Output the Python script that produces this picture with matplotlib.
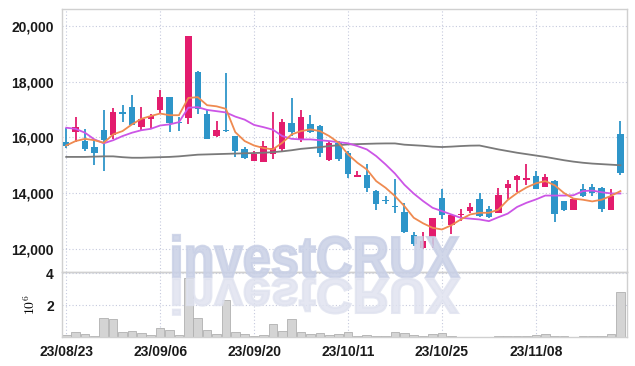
import matplotlib
matplotlib.use("Agg")
import matplotlib.pyplot as plt
from matplotlib.font_manager import FontProperties
from matplotlib.patches import PathPatch
from matplotlib.textpath import TextPath
from matplotlib.transforms import Affine2D, IdentityTransform
from matplotlib.ticker import FuncFormatter

plt.rcParams["mathtext.fontset"] = "cm"

# daily candles, 2023-08-23 .. 2023-11-21
opens = [15820, 16190, 15870, 15640, 16250, 16080, 16930, 17110, 16370, 16660,
         16980, 17440, 16550, 16710, 18340, 16830, 16050, 16240, 16070, 15570,
         15150, 15130, 15420, 15590, 16530, 15930, 16470, 16400, 15190, 15790,
         15450, 14580, 14640, 14070, 13740, 13530, 13310, 12480, 12020, 12420,
         13840, 12850, 13210, 13340, 13800, 13440, 13290, 14190, 14480, 14470,
         14610, 14220, 14430, 13710, 13390, 14130, 14200, 14180, 13400, 16140]
highs = [16350, 16740, 16320, 15950, 17000, 17070, 17160, 17530, 17100, 16830,
         17710, 17460, 16720, 19660, 18380, 17000, 16590, 18320, 16070, 15670,
         15510, 15890, 16910, 16650, 17420, 17000, 16790, 16460, 15870, 15870,
         15510, 14790, 15030, 14100, 13890, 14490, 13650, 12600, 12600, 13110,
         14150, 13230, 13440, 13650, 14010, 13530, 14190, 14470, 14660, 15030,
         14790, 14670, 14470, 13720, 13800, 14310, 14310, 14220, 14140, 16590]
lows = [15630, 15830, 15530, 15020, 14790, 15950, 16570, 16440, 16260, 16350,
        16890, 16200, 16230, 16490, 16850, 15950, 16020, 16190, 15310, 15230,
        15140, 15130, 15230, 15530, 16050, 15830, 16170, 15310, 15150, 15150,
        14550, 14580, 14040, 13390, 13620, 13290, 12570, 12090, 12000, 12040,
        13080, 12510, 12990, 13270, 13150, 13110, 13270, 13800, 14040, 14280,
        14130, 14220, 12960, 13350, 13390, 13870, 13910, 13330, 13400, 14640]
closes = [15710, 16370, 15570, 15440, 15900, 16930, 16840, 16440, 16680, 16770,
          17440, 16530, 16520, 19660, 17030, 15950, 16250, 16220, 15510, 15260,
          15420, 15690, 15630, 16550, 16200, 16730, 16190, 15440, 15790, 15210,
          14670, 14650, 14180, 13600, 13710, 13490, 12600, 12150, 12260, 13090,
          13200, 13200, 13230, 13510, 13170, 13150, 13940, 14310, 14600, 14530,
          14160, 14580, 13230, 13390, 13770, 13890, 14010, 13430, 13880, 14710]

ma_short = [15710, 15870, 15950, 15900, 15810, 16110, 16230, 16470, 16670, 16770,
            16860, 16800, 16800, 17420, 17450, 17160, 17120, 17030, 16190, 15870,
            15710, 15620, 15570, 15810, 16110, 16230, 16290, 16230, 16050, 15810,
            15390, 15090, 14850, 14430, 14190, 13890, 13530, 13110, 12910, 12750,
            12690, 12840, 13050, 13230, 13290, 13290, 13400, 13750, 14000, 14200,
            14350, 14430, 14280, 14000, 13800, 13760, 13700, 13760, 13900, 14070]
ma_mid = [16350, 16310, 16170, 15930, 15790, 15900, 16050, 16170, 16260, 16310,
          16430, 16470, 16550, 17070, 17090, 16990, 16945, 16900, 16750, 16640,
          16450, 16370, 16280, 16050, 15950, 15930, 15930, 15900, 15870, 15830,
          15790, 15690, 15570, 15330, 15030, 14700, 14300, 13980, 13710, 13470,
          13350, 13230, 13110, 13080, 13050, 12990, 13130, 13260, 13500, 13650,
          13770, 13910, 13910, 13910, 13920, 14070, 14090, 14030, 13985, 13985]
ma_long = [15300, 15300, 15300, 15310, 15320, 15320, 15290, 15270, 15270, 15280,
           15290, 15300, 15320, 15350, 15380, 15390, 15400, 15410, 15420, 15430,
           15440, 15450, 15470, 15500, 15540, 15590, 15620, 15650, 15690, 15720,
           15750, 15760, 15770, 15780, 15785, 15785, 15740, 15720, 15700, 15670,
           15655, 15670, 15690, 15705, 15710, 15640, 15570, 15510, 15450, 15400,
           15350, 15300, 15240, 15180, 15130, 15090, 15060, 15040, 15020, 15000]

volumes = [130000, 320000, 190000, 60000, 1190000, 1120000, 320000, 380000, 250000, 130000,
           550000, 440000, 130000, 3720000, 1190000, 440000, 190000, 2310000, 320000, 190000,
           60000, 130000, 830000, 380000, 1120000, 320000, 190000, 270000, 130000, 190000,
           320000, 60000, 150000, 80000, 50000, 300000, 240000, 100000, 80000, 200000,
           250000, 60000, 30000, 30000, 20000, 20000, 80000, 80000, 80000, 80000,
           100000, 170000, 70000, 60000, 20000, 40000, 40000, 80000, 190000, 2830000]

tick_idx = [0, 10, 20, 30, 40, 50]
tick_labels = ["23/08/23", "23/09/06", "23/09/20", "23/10/11", "23/10/25", "23/11/08"]
price_ticks = [12000, 14000, 16000, 18000, 20000]

UP = "#e31c6d"
DOWN = "#2e95c9"
GRID = "#c5c9dd"
EDGE = "#d0d0d0"
LABEL_FONT = FontProperties(family=["Liberation Sans", "DejaVu Sans"], weight="bold", size=10)

fig = plt.figure(figsize=(6.35, 3.66), dpi=100)
ax = fig.add_axes([0.0976, 0.2568, 0.8898, 0.7186])
axv = fig.add_axes([0.0976, 0.0792, 0.8898, 0.1776], sharex=ax)

# watermark and its mirror image, squeezed to the reference width
wm_font = FontProperties(family=["Liberation Sans", "DejaVu Sans"], weight="bold")
wm_path = TextPath((0, 0), "investCRUX", size=58, prop=wm_font)
ext = wm_path.get_extents()
sx = 286 / ext.width
up_tr = Affine2D().translate(-ext.x0, 0).scale(sx, 1.0).translate(173, 89) + IdentityTransform()
dn_tr = Affine2D().translate(-ext.x0, 0).scale(sx, -0.85).translate(173, 87) + IdentityTransform()
fig.patches.append(PathPatch(wm_path, transform=up_tr, facecolor="#c9d0e6", edgecolor="#c9d0e6",
                             linewidth=1.6, alpha=0.85, zorder=0.5))
fig.patches.append(PathPatch(wm_path, transform=dn_tr, facecolor="#dfe2ef", edgecolor="#dfe2ef",
                             linewidth=1.6, alpha=0.8, zorder=0.5))

for a in (ax, axv):
    a.set_facecolor("none")
    for s in a.spines.values():
        s.set_color(EDGE)
        s.set_linewidth(1.0)
    a.grid(True, color=GRID, linestyle=(0, (1, 2)), linewidth=0.8)
    a.tick_params(length=0, pad=6)
    a.set_axisbelow(True)

for i in range(len(opens)):
    o, h, l, c = opens[i], highs[i], lows[i], closes[i]
    col = UP if c >= o else DOWN
    ax.vlines(i, l, h, color=col, linewidth=1.3, zorder=2)
    body = max(abs(c - o), 40)
    ax.bar(i, body, bottom=min(o, c), width=0.68, color=col, edgecolor="none", zorder=3)

x = list(range(len(closes)))
ax.plot(x, ma_long, color="#7a7a7a", linewidth=1.3, zorder=4)
ax.plot(x, ma_mid, color="#cc55e6", linewidth=1.3, zorder=4)
ax.plot(x, ma_short, color="#ef8a50", linewidth=1.3, zorder=4)

ax.set_ylim(11160, 20620)
ax.set_yticks(price_ticks)
ax.yaxis.set_major_formatter(FuncFormatter(lambda v, p: f"{int(v):,}"))
ax.set_xlim(-0.45, 59.7)
ax.set_xticks(tick_idx)
plt.setp(ax.get_xticklabels(), visible=False)

axv.bar(x, volumes, width=0.92, color="#d4d4d4", edgecolor="#b0b0b0", linewidth=0.6, zorder=2)
axv.set_ylim(0, 4.08e6)
axv.set_yticks([2e6, 4e6])
axv.yaxis.set_major_formatter(FuncFormatter(lambda v, p: f"{v / 1e6:.0f}"))
axv.set_xticks(tick_idx)
axv.set_xticklabels(tick_labels)
axv.set_ylabel(r"$10^6$", fontsize=10, labelpad=6)

for lab in ax.get_yticklabels() + axv.get_yticklabels() + axv.get_xticklabels():
    lab.set_fontproperties(LABEL_FONT)
    lab.set_color("#1a1a1a")

fig.savefig("out.png", dpi=100, facecolor="white")
